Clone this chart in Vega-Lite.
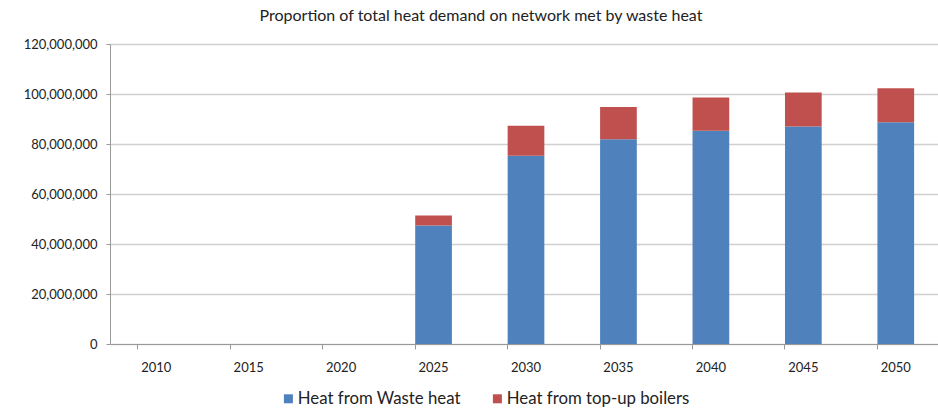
{
  "$schema": "https://vega.github.io/schema/vega-lite/v6.json",
  "width": 832,
  "height": 300,
  "autosize": {"type": "none"},
  "padding": {"left": 110, "top": 44, "right": 0, "bottom": 69},
  "background": "white",
  "title": {
    "text": "Proportion of total heat demand on network met by waste heat",
    "font": "Lato",
    "fontSize": 16,
    "fontWeight": "normal",
    "color": "#222222",
    "anchor": "middle",
    "frame": "group",
    "dx": -45,
    "offset": 14
  },
  "config": {
    "view": {"stroke": null},
    "font": "Lato"
  },
  "data": {
    "values": [
      {"year": "2010", "series": "Heat from Waste heat", "value": 0},
      {"year": "2015", "series": "Heat from Waste heat", "value": 0},
      {"year": "2020", "series": "Heat from Waste heat", "value": 0},
      {"year": "2025", "series": "Heat from Waste heat", "value": 47400000},
      {"year": "2030", "series": "Heat from Waste heat", "value": 75300000},
      {"year": "2035", "series": "Heat from Waste heat", "value": 81900000},
      {"year": "2040", "series": "Heat from Waste heat", "value": 85300000},
      {"year": "2045", "series": "Heat from Waste heat", "value": 87000000},
      {"year": "2050", "series": "Heat from Waste heat", "value": 88700000},
      {"year": "2010", "series": "Heat from top-up boilers", "value": 0},
      {"year": "2015", "series": "Heat from top-up boilers", "value": 0},
      {"year": "2020", "series": "Heat from top-up boilers", "value": 0},
      {"year": "2025", "series": "Heat from top-up boilers", "value": 4000000},
      {"year": "2030", "series": "Heat from top-up boilers", "value": 12000000},
      {"year": "2035", "series": "Heat from top-up boilers", "value": 12900000},
      {"year": "2040", "series": "Heat from top-up boilers", "value": 13300000},
      {"year": "2045", "series": "Heat from top-up boilers", "value": 13600000},
      {"year": "2050", "series": "Heat from top-up boilers", "value": 13600000}
    ]
  },
  "mark": {"type": "bar"},
  "encoding": {
    "x": {
      "field": "year",
      "type": "ordinal",
      "sort": null,
      "scale": {"paddingInner": 0.603, "paddingOuter": 0.3015},
      "axis": {
        "title": null,
        "labelAngle": 0,
        "labelFontSize": 13,
        "labelColor": "#222222",
        "labelPadding": 12,
        "bandPosition": 0,
        "tickSize": 5,
        "tickColor": "#999999",
        "domainColor": "#999999",
        "grid": false
      }
    },
    "y": {
      "field": "value",
      "type": "quantitative",
      "stack": "zero",
      "scale": {"domain": [0, 120000000]},
      "axis": {
        "title": null,
        "values": [0, 20000000, 40000000, 60000000, 80000000, 100000000, 120000000],
        "format": ",d",
        "labelFontSize": 13,
        "labelColor": "#222222",
        "labelPadding": 9,
        "tickSize": 4,
        "tickColor": "#999999",
        "domainColor": "#999999",
        "gridColor": "#d0d0d0",
        "gridWidth": 1.5
      }
    },
    "color": {
      "field": "series",
      "type": "nominal",
      "scale": {
        "domain": ["Heat from Waste heat", "Heat from top-up boilers"],
        "range": ["#4F81BD", "#C0504D"]
      },
      "legend": {
        "title": null,
        "orient": "none",
        "direction": "horizontal",
        "legendX": 170,
        "legendY": 346,
        "symbolType": "square",
        "symbolSize": 81,
        "symbolStrokeWidth": 0,
        "labelFontSize": 16.8,
        "labelFont": "Lato",
        "labelColor": "#222222",
        "labelOffset": 1,
        "columnPadding": 28,
        "labelLimit": 300
      }
    },
    "order": {"field": "series", "sort": "ascending"}
  }
}
